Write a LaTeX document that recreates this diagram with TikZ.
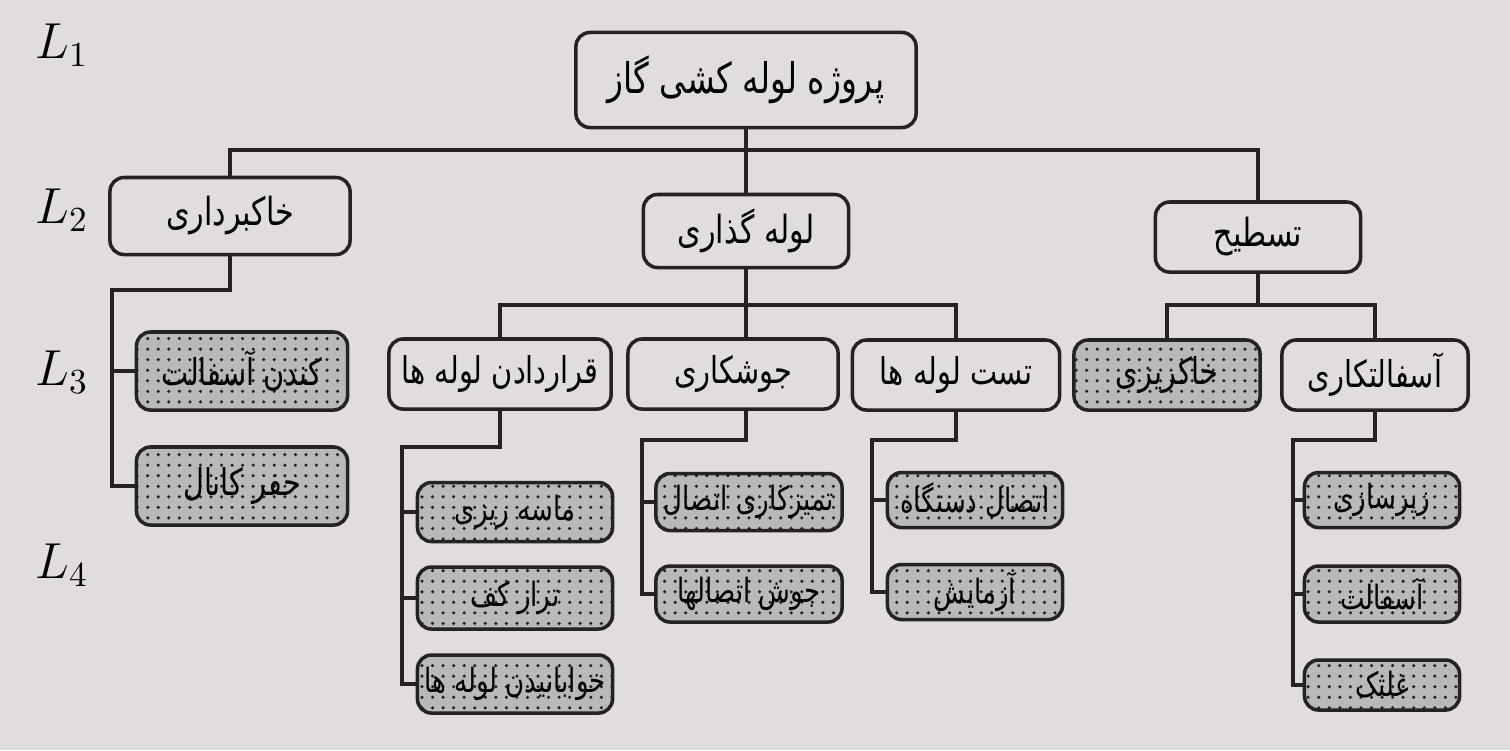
\documentclass[tikz,border=0pt]{standalone}
\usepackage{fontspec}
\newfontfamily\arabicfont[Script=Arabic,FakeStretch=0.78]{DejaVu Sans}
\TeXXeTstate=1
\usetikzlibrary{patterns}
\definecolor{paper}{RGB}{224,221,220}
\definecolor{ink}{RGB}{38,34,34}
\newcommand{\fatext}[1]{\arabicfont\beginR #1\endR}
\begin{document}
\begin{tikzpicture}[x=0.01cm,y=-0.01cm,
        every node/.style={draw=ink,line width=1pt,rounded corners=4pt,inner sep=0pt}]
        \tikzset{edge/.style = {draw=ink,line width=1pt}}
        \tikzset{lvl/.style = {draw=none,font=\fontsize{14}{17}\selectfont}}
        \tikzset{greytask/.style = {preaction={fill=gray!55},pattern=dots,pattern color=ink}}
        \tikzset{big/.style = {font=\fontsize{12}{14}\selectfont}}
        \tikzset{mid/.style = {font=\fontsize{11}{13}\selectfont}}
        \tikzset{low/.style = {font=\fontsize{10.5}{12}\selectfont}}
        \tikzset{small/.style = {font=\fontsize{9.5}{11}\selectfont}}
        \fill[paper] (0,0) rectangle (1510,750);
        \useasboundingbox (0,0) rectangle (1510,750);

        % levels
        \node[lvl] (l1) at (62,45) {$L_1$};
        \node[lvl] (l2) at (62,210) {$L_2$};
        \node[lvl] (l3) at (62,372) {$L_3$};
        \node[lvl] (l4) at (62,565) {$L_4$};

        % L1 and L2
        \node[big,minimum width=3.4cm,minimum height=0.95cm] (root) at (746,80) {\fatext{پروژه لوله کشی گاز}};
        \node[mid,minimum width=2.4cm,minimum height=0.77cm] (dig) at (230,216) {\fatext{خاکبرداری}};
        \node[mid,minimum width=2.05cm,minimum height=0.73cm] (lay) at (746,231) {\fatext{لوله گذاری}};
        \node[mid,minimum width=2.05cm,minimum height=0.7cm] (lev) at (1258,237) {\fatext{تسطیح}};

        % L3
        \node[low,greytask,minimum width=2.11cm,minimum height=0.78cm] (cut) at (242,371) {\fatext{کندن آسفالت}};
        \node[low,greytask,minimum width=2.11cm,minimum height=0.78cm] (canal) at (242,486) {\fatext{حفر کانال}};
        \node[low,minimum width=2.22cm,minimum height=0.7cm] (place) at (500,374) {\fatext{قراردادن لوله ها}};
        \node[low,minimum width=2.1cm,minimum height=0.7cm] (weld) at (733,374) {\fatext{جوشکاری}};
        \node[low,minimum width=2.07cm,minimum height=0.7cm] (test) at (956,375) {\fatext{تست لوله ها}};
        \node[low,greytask,minimum width=1.86cm,minimum height=0.7cm] (fill) at (1167,375) {\fatext{خاکریزی}};
        \node[low,minimum width=1.86cm,minimum height=0.7cm] (asph) at (1375,375) {\fatext{آسفالتکاری}};

        % L4
        \node[small,greytask,minimum width=1.95cm,minimum height=0.59cm] (sand) at (515,512) {\fatext{ماسه ریزی}};
        \node[small,greytask,minimum width=1.95cm,minimum height=0.62cm] (flat) at (515,598) {\fatext{تراز کف}};
        \node[small,greytask,minimum width=1.95cm,minimum height=0.58cm] (lie) at (515,684) {\fatext{خوابانیدن لوله ها}};
        \node[small,greytask,minimum width=1.86cm,minimum height=0.57cm] (clean) at (749,502) {\fatext{تمیزکاری اتصال}};
        \node[small,greytask,minimum width=1.86cm,minimum height=0.56cm] (joint) at (749,594) {\fatext{جوش اتصالها}};
        \node[small,greytask,minimum width=1.75cm,minimum height=0.55cm] (conn) at (975,500) {\fatext{اتصال دستگاه}};
        \node[small,greytask,minimum width=1.75cm,minimum height=0.55cm] (trial) at (975,592) {\fatext{آزمایش}};
        \node[small,greytask,minimum width=1.55cm,minimum height=0.55cm] (base) at (1382,500) {\fatext{زیرسازی}};
        \node[small,greytask,minimum width=1.55cm,minimum height=0.56cm] (coat) at (1382,594) {\fatext{آسفالت}};
        \node[small,greytask,minimum width=1.55cm,minimum height=0.5cm] (roll) at (1382,685) {\fatext{غلتک}};

        % joints
        \coordinate (b1) at (746,150);
        \coordinate (b2) at (746,305);
        \coordinate (b3) at (1258,305);
        \coordinate (j1) at (112,290);
        \coordinate (j2) at (402,447);
        \coordinate (j3) at (642,440);
        \coordinate (j4) at (872,440);
        \coordinate (j5) at (1293,440);

        \draw[edge] (root) -- (lay);
        \draw[edge] (dig.north) |- (b1) -| (lev.north);
        \draw[edge] (place.north) |- (b2) -| (test.north);
        \draw[edge] (lay.south) -- (lay.south |- weld.north);
        \draw[edge] (lev.south) -- (b3);
        \draw[edge] (fill.north) |- (b3) -| (asph.north);

        \draw[edge] (dig.south) |- (j1) |- (cut.west);
        \draw[edge] (j1) |- (canal.west);
        \draw[edge] (place.south) |- (j2) |- (sand.west);
        \draw[edge] (j2) |- (flat.west);
        \draw[edge] (j2) |- (lie.west);
        \draw[edge] (lay.south |- weld.south) |- (j3) |- (clean.west);
        \draw[edge] (j3) |- (joint.west);
        \draw[edge] (test.south) |- (j4) |- (conn.west);
        \draw[edge] (j4) |- (trial.west);
        \draw[edge] (asph.south) |- (j5) |- (base.west);
        \draw[edge] (j5) |- (coat.west);
        \draw[edge] (j5) |- (roll.west);
\end{tikzpicture}
\end{document}
